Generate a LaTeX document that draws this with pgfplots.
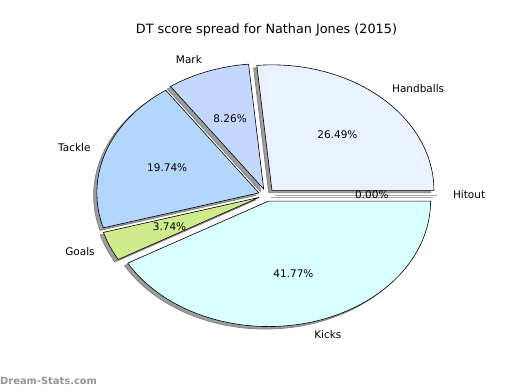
\documentclass[border=0pt]{standalone}
\usepackage{pgfplots}
\usepackage{pgfplotstable}
\pgfplotsset{compat=1.18}
\usepackage{fontspec}
\setmainfont{DejaVu Sans}
\definecolor{cHand}{HTML}{EBF2FF}
\definecolor{cMark}{HTML}{C4D8FF}
\definecolor{cTack}{HTML}{B3D6FF}
\definecolor{cGoal}{HTML}{CFEB8B}
\definecolor{cKick}{HTML}{D9FFFF}
\definecolor{cHit}{HTML}{FFFFFF}
\definecolor{shadowfill}{HTML}{9C9E9E}
\definecolor{shadowedge}{HTML}{808080}
\newcommand\lblfont{\fontsize{10.5bp}{12bp}\selectfont}

\pgfplotstableread{
label pct color
Handballs 26.49 cHand
Mark 8.26 cMark
Tackle 19.74 cTack
Goals 3.74 cGoal
Kicks 41.77 cKick
Hitout 0.00 cHit
}\piedata

\begin{document}
\begin{tikzpicture}[x=1bp,y=1bp]
\useasboundingbox (0,0) rectangle (520,390);
\begin{axis}[at={(266.5bp,195bp)}, anchor=center, x=162bp, y=125.5bp,
  xmin=-1.5, xmax=1.5, ymin=-1.5, ymax=1.5, hide axis, clip=false]
\pgfplotstablegetrowsof{\piedata}
\pgfmathtruncatemacro\lastrow{\pgfplotsretval-1}
% shadows
\def\cum{0}
\pgfplotsforeachungrouped \i in {0,...,\lastrow}{%
  \pgfplotstablegetelem{\i}{pct}\of\piedata \let\p=\pgfplotsretval
  \pgfmathsetmacro\a{3.6*\cum}
  \pgfmathsetmacro\b{3.6*(\cum+\p)}
  \pgfmathsetmacro\m{(\a+\b)/2}
  \pgfmathsetmacro\dx{0.05*cos(\m)-0.02}
  \pgfmathsetmacro\dy{0.05*sin(\m)-0.02}
  \pgfmathsetmacro\ex{\dx+cos(\m)}
  \pgfmathsetmacro\ey{\dy+sin(\m)}
  \ifdim\p pt>0pt
    \edef\cmd{\noexpand\addplot[draw=shadowedge, line width=0.7bp, fill=shadowfill, domain=\a:\b, samples=90] ({\dx+cos(x)},{\dy+sin(x)}) -- (axis cs:\dx,\dy) -- cycle;}%
  \else
    \edef\cmd{\noexpand\addplot[draw=shadowedge!70, line width=1bp] coordinates {(\dx,\dy) (\ex,\ey)};}%
  \fi
  \cmd
  \pgfmathsetmacro\cum{\cum+\p}%
}
% wedges and labels
\def\cum{0}
\pgfplotsforeachungrouped \i in {0,...,\lastrow}{%
  \pgfplotstablegetelem{\i}{pct}\of\piedata \let\p=\pgfplotsretval
  \pgfplotstablegetelem{\i}{label}\of\piedata \let\lab=\pgfplotsretval
  \pgfplotstablegetelem{\i}{color}\of\piedata \let\col=\pgfplotsretval
  \pgfmathsetmacro\a{3.6*\cum}
  \pgfmathsetmacro\b{3.6*(\cum+\p)}
  \pgfmathsetmacro\m{(\a+\b)/2}
  \pgfmathsetmacro\dx{0.05*cos(\m)}
  \pgfmathsetmacro\dy{0.05*sin(\m)}
  \pgfmathsetmacro\ex{\dx+cos(\m)}
  \pgfmathsetmacro\ey{\dy+sin(\m)}
  \pgfmathsetmacro\lx{\dx+1.1*cos(\m)}
  \pgfmathsetmacro\ly{\dy+1.1*sin(\m)}
  \pgfmathsetmacro\px{\dx+0.6*cos(\m)}
  \pgfmathsetmacro\py{\dy+0.6*sin(\m)}
  \pgfmathtruncatemacro\isright{\lx>0 ? 1 : 0}
  \ifnum\isright=1 \def\anch{west}\else\def\anch{east}\fi
  \ifdim\p pt>0pt
    \edef\cmd{\noexpand\addplot[draw=black, line width=0.6bp, fill=\col, domain=\a:\b, samples=90] ({\dx+cos(x)},{\dy+sin(x)}) -- (axis cs:\dx,\dy) -- cycle;}%
  \else
    \edef\cmd{\noexpand\addplot[draw=black!35, line width=1bp] coordinates {(\dx,\dy) (\ex,\ey)};}%
  \fi
  \cmd
  \edef\cmd{\noexpand\node[anchor=\anch, inner sep=0pt, font=\noexpand\lblfont] at (axis cs:\lx,\ly) {\lab};}%
  \cmd
  \edef\cmd{\noexpand\node[anchor=center, inner sep=0pt, font=\noexpand\lblfont] at (axis cs:\px,\py) {\p\noexpand\%};}%
  \cmd
  \pgfmathsetmacro\cum{\cum+\p}%
}
\end{axis}
\node[inner sep=0pt, anchor=center, font=\fontsize{12.8bp}{14bp}\selectfont] at (266.5,360) {DT score spread for Nathan Jones (2015)};
\node[inner sep=0pt, anchor=base west, text=black!42, font=\fontsize{9.9bp}{11bp}\selectfont\bfseries] at (0,6) {Dream-Stats.com};
\end{tikzpicture}
\end{document}
